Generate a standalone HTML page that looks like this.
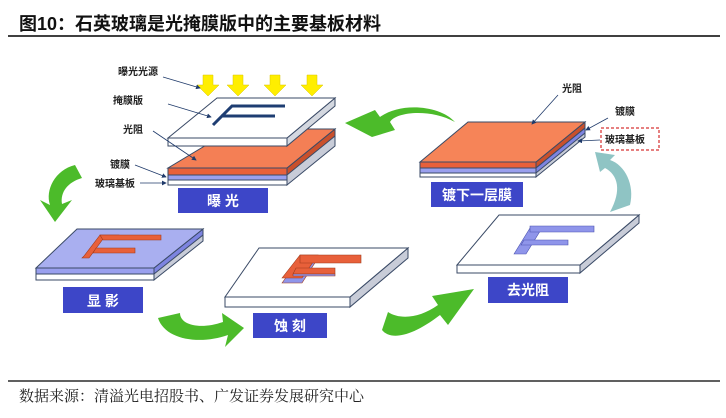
<!DOCTYPE html>
<html><head><meta charset="utf-8"><style>
html,body{margin:0;padding:0;background:#fff;width:726px;height:418px;overflow:hidden}
svg{display:block}
.t{font-family:"Liberation Sans","Noto Sans CJK SC",sans-serif}
</style></head><body>
<svg width="726" height="418" viewBox="0 0 726 418" xmlns="http://www.w3.org/2000/svg">
<defs>
<marker id="ah" markerWidth="6" markerHeight="6" refX="5" refY="3" orient="auto"><path d="M0,0 L6,3 L0,6 z" fill="#1f3a6a"/></marker>
</defs>
<text x="19" y="30" class="t" font-size="18" font-weight="bold" fill="#111">图10：石英玻璃是光掩膜版中的主要基板材料</text>
<line x1="8" y1="36" x2="720" y2="36" stroke="#000" stroke-width="1.5"/>
<line x1="8" y1="381" x2="720" y2="381" stroke="#000" stroke-width="1.2"/>
<text x="19" y="401" font-family="'Liberation Serif','Noto Serif CJK SC',serif" font-size="15" fill="#222">数据来源：清溢光电招股书、广发证券发展研究中心</text>

<!-- Exposure stack -->
<g stroke="#3a4a66" stroke-width="1">
<polygon points="168,168 287,168 287,185 168,185" fill="#fff"/>
<polygon points="168,175 287,175 287,180 168,180" fill="#9aa0ee"/>
<polygon points="168,168 287,168 287,175 168,175" fill="#e8603a"/>
<polygon points="287,168 335,129 335,146 287,185" fill="#c8ccd8"/>
<polygon points="287,168 335,129 335,136 287,175" fill="#c9502c"/>
<polygon points="233,129 335,129 287,168 168,168" fill="#f47f55"/>
<polygon points="168,138 287,138 287,146 168,146" fill="#fff"/>
<polygon points="287,138 335,98 335,106 287,146" fill="#d4d8e0"/>
<polygon points="217,98 335,98 287,138 168,138" fill="#fff"/>
</g>
<path d="M213,125 L232,106 L285,106 M221,116 L275,116" stroke="#1e3d72" stroke-width="3" fill="none"/>
<g fill="#ffee00" stroke="#d8c400" stroke-width="0.5">
<path d="M203,75h10v10h6l-11,11l-11,-11h6z"/>
<path d="M233,75h10v10h6l-11,11l-11,-11h6z"/>
<path d="M270,75h10v10h6l-11,11l-11,-11h6z"/>
<path d="M307,75h10v10h6l-11,11l-11,-11h6z"/>
</g>
<rect x="178" y="188" width="90" height="25" fill="#3d46c8"/>
<text x="223" y="206" class="t" font-size="14" font-weight="bold" fill="#fff" text-anchor="middle">曝 光</text>
<g class="t" font-size="10" fill="#222" font-weight="bold">
<text x="118" y="75">曝光光源</text>
<text x="113" y="104">掩膜版</text>
<text x="123" y="133">光阻</text>
<text x="110" y="168">镀膜</text>
<text x="95" y="187">玻璃基板</text>
</g>
<g stroke="#1f3a6a" stroke-width="0.8" fill="none" marker-end="url(#ah)">
<line x1="163" y1="77" x2="200" y2="88"/>
<line x1="168" y1="104" x2="211" y2="117"/>
<line x1="153" y1="131" x2="196" y2="160"/>
<line x1="135" y1="165" x2="166" y2="177"/>
<line x1="140" y1="183" x2="166" y2="183"/>
</g>

<!-- top right stack -->
<g stroke="#3a4a66" stroke-width="1">
<polygon points="420,162 536,162 536,177 420,177" fill="#fff"/>
<polygon points="420,168 536,168 536,173 420,173" fill="#9aa0ee"/>
<polygon points="420,162 536,162 536,168 420,168" fill="#e8603a"/>
<polygon points="536,162 585,122 585,137 536,177" fill="#c8ccd8"/>
<polygon points="536,162 585,122 585,128 536,168" fill="#c9502c"/>
<polygon points="536,168 585,128 585,133 536,173" fill="#7d84e0"/>
<polygon points="468,122 585,122 536,162 420,162" fill="#f68458"/>
</g>
<rect x="431" y="182" width="92" height="25" fill="#3d46c8"/>
<text x="477" y="200" class="t" font-size="14" font-weight="bold" fill="#fff" text-anchor="middle">镀下一层膜</text>
<g class="t" font-size="10" fill="#222" font-weight="bold">
<text x="562" y="92">光阻</text>
<text x="615" y="115">镀膜</text>
<text x="605" y="143">玻璃基板</text>
</g>
<rect x="601" y="128" width="58" height="22" fill="none" stroke="#c00" stroke-width="1" stroke-dasharray="3,2"/>
<g stroke="#1f3a6a" stroke-width="0.8" fill="none" marker-end="url(#ah)">
<line x1="558" y1="95" x2="532" y2="124"/>
<line x1="608" y1="118" x2="586" y2="130"/>
<line x1="600" y1="140" x2="578" y2="141"/>
</g>

<!-- arrows -->
<path d="M455,122 C430,108 395,112 390,122 L395,130 L372,137 L345,123 L375,110 L380,117 C400,102 440,105 455,122 Z" fill="#4cbb2a"/>
<path d="M630,205 C635,185 625,165 610,160 L615,155 L595,152 L600,172 L605,168 C618,175 622,190 610,212 Z" fill="#8fc4c4"/>
<path d="M75,165 C55,170 45,190 50,205 L40,200 L55,222 L72,200 L62,204 C60,192 68,182 82,178 Z" fill="#4cbb2a"/>
<path d="M158,318 C165,340 200,345 228,335 L225,347 L244,328 L222,313 L223,322 C200,330 180,325 180,313 Z" fill="#4cbb2a"/>
<path d="M382,330 C390,340 410,338 440,315 L448,325 L474,289 L432,296 L438,305 C420,318 400,320 388,312 Z" fill="#4cbb2a"/>

<!-- develop plate -->
<g stroke="#3a4a66" stroke-width="1">
<polygon points="36,268 154,268 154,280 36,280" fill="#fff"/>
<polygon points="36,268 154,268 154,274 36,274" fill="#9aa0ee"/>
<polygon points="154,268 203,229 203,241 154,280" fill="#c8ccd8"/>
<polygon points="154,268 203,229 203,235 154,274" fill="#7d84e0"/>
<polygon points="77,229 203,229 154,268 36,268" fill="#a9aff0"/>
</g>
<g fill="#e8603a" stroke="#a03a1a" stroke-width="0.6">
<polygon points="84,256 100,235 119,235 118,239 103,239 89,258 82,258"/>
<polygon points="100,235 161,235 161,240 103,240"/>
<polygon points="96,248 135,248 135,253 93,253"/>
</g>
<rect x="63" y="287" width="80" height="26" fill="#3d46c8"/>
<text x="103" y="306" class="t" font-size="14" font-weight="bold" fill="#fff" text-anchor="middle">显 影</text>

<!-- etch plate -->
<g stroke="#3a4a66" stroke-width="1">
<polygon points="225,297 350,297 350,307 225,307" fill="#fff"/>
<polygon points="350,297 408,248 408,258 350,307" fill="#c8ccd8"/>
<polygon points="259,248 408,248 350,297 225,297" fill="#fff"/>
</g>
<g stroke="#a03a1a" stroke-width="0.6">
<polygon points="282,283 300,258 318,258 302,283" fill="#8f95ea"/>
<polygon points="282,278 300,255 318,255 302,278" fill="#e8603a"/>
<polygon points="300,255 361,255 361,263 300,263" fill="#e8603a"/>
<polygon points="296,268 335,268 335,274 293,274" fill="#e8603a"/>
<polygon points="293,274 335,274 335,276 293,276" fill="#8f95ea"/>
</g>
<rect x="253" y="313" width="74" height="25" fill="#3d46c8"/>
<text x="290" y="331" class="t" font-size="14" font-weight="bold" fill="#fff" text-anchor="middle">蚀 刻</text>

<!-- strip plate -->
<g stroke="#3a4a66" stroke-width="1">
<polygon points="457,265 580,265 580,273 457,273" fill="#fff"/>
<polygon points="580,265 639,215 639,223 580,273" fill="#c8ccd8"/>
<polygon points="499,215 639,215 580,265 457,265" fill="#fff"/>
</g>
<g fill="#8f95ea" stroke="#4a52b0" stroke-width="0.6">
<polygon points="514,254 530,228 542,228 526,254"/>
<polygon points="530,226 594,226 594,232 530,232"/>
<polygon points="524,240 568,240 568,245 521,245"/>
</g>
<rect x="488" y="277" width="80" height="26" fill="#3d46c8"/>
<text x="528" y="295" class="t" font-size="14" font-weight="bold" fill="#fff" text-anchor="middle">去光阻</text>
</svg>
</body></html>
